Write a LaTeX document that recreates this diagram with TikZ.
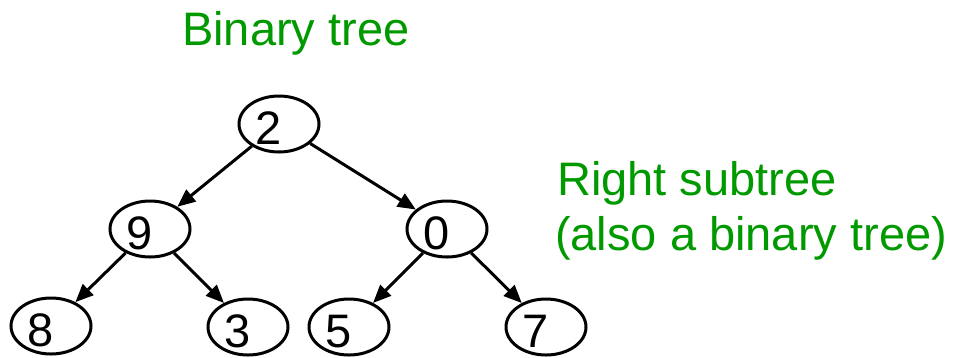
\documentclass[tikz,border=0pt]{standalone}
\usepackage{fontspec}
\setmainfont{Liberation Sans}
\usetikzlibrary{shapes.geometric,arrows.meta}
\definecolor{labelgreen}{RGB}{0,153,0}
% digit set a little left of the ellipse centre
\newcommand{\keytext}[1]{\makebox[48pt][l]{\raisebox{-3pt}[34pt][0pt]{#1}}}
\begin{document}
\begin{tikzpicture}[x=1pt,y=-1pt,
  treenode/.style={draw,ellipse,line width=3pt,minimum width=80pt,minimum height=56pt,
    inner sep=0pt,font=\fontsize{47}{54}\selectfont},
  edge/.style={line width=3pt,-{Triangle[length=18pt,width=15pt]}},
  caption/.style={text=labelgreen,font=\fontsize{47}{55}\selectfont,anchor=base west,inner sep=0pt}]
  \useasboundingbox (0,0) rectangle (957,357);

  % tree nodes
  \node[treenode] (n2) at (279,124) {\keytext{2}};
  \node[treenode] (n9) at (150,229) {\keytext{9}};
  \node[treenode] (n0) at (447,229) {\keytext{0}};
  \node[treenode] (n8) at (51,326)  {\keytext{8}};
  \node[treenode] (n3) at (248,327) {\keytext{3}};
  \node[treenode] (n5) at (349,327) {\keytext{5}};
  \node[treenode] (n7) at (546,327) {\keytext{7}};

  % parent-to-child edges
  \draw[edge] (n2) -- (n9);
  \draw[edge] (n2) -- (n0);
  \draw[edge] (n9) -- (n8);
  \draw[edge] (n9) -- (n3);
  \draw[edge] (n0) -- (n5);
  \draw[edge] (n0) -- (n7);

  % captions
  \node[caption] (title) at (182,45) {Binary tree};
  \node[caption] (sub1) at (557,195) {Right subtree};
  \node[caption] (sub2) at (555,250) {(also a binary tree)};
\end{tikzpicture}
\end{document}
